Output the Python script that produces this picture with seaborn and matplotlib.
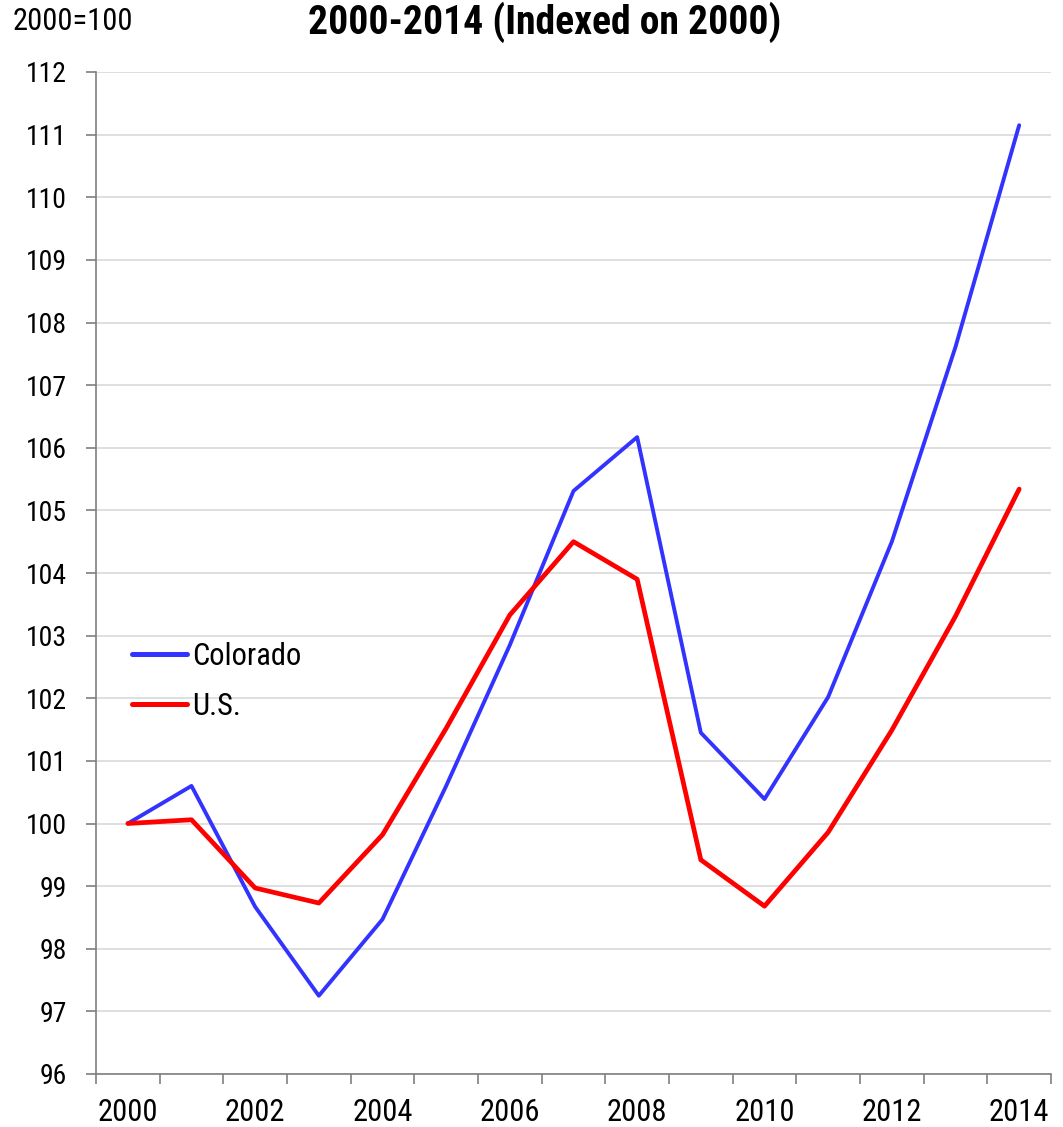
import matplotlib
matplotlib.use("Agg")
import matplotlib.pyplot as plt
from matplotlib import font_manager
from matplotlib.lines import Line2D
import seaborn as sns
import pandas as pd
import numpy as np

years = list(range(2000, 2015))
colorado = [100.0, 100.6, 98.67, 97.25, 98.47, 100.6, 102.85, 105.31, 106.17,
            101.45, 100.39, 102.02, 104.5, 107.61, 111.15]
us = [100.0, 100.06, 98.97, 98.73, 99.82, 101.52, 103.33, 104.5, 103.9,
      99.42, 98.68, 99.86, 101.49, 103.31, 105.34]
series_names = ["Colorado", "U.S."]
series_colors = {"Colorado": "#3333FF", "U.S.": "#FF0000"}
y_ticks = list(range(96, 113))
x_labels = list(range(2000, 2015, 2))


def pick_family(prefs, min_weight=0):
    for name in prefs:
        for f in font_manager.fontManager.ttflist:
            w = f.weight if isinstance(f.weight, int) else 400
            if f.name == name and w >= min_weight:
                return name
    return "DejaVu Sans"


narrow_prefs = ["Liberation Sans Narrow", "Arial Narrow", "Nimbus Sans Narrow",
                "Roboto Condensed", "Archivo Narrow", "PT Sans Narrow",
                "Fira Sans Condensed", "Liberation Sans"]
regular_font = pick_family(narrow_prefs)
bold_font = pick_family(narrow_prefs, min_weight=700)

sns.set_theme(style="white")
plt.rcParams["font.family"] = [regular_font, "DejaVu Sans"]
plt.rcParams["text.color"] = "black"

df = pd.DataFrame({
    "year": years * 2,
    "value": colorado + us,
    "series": ["Colorado"] * len(years) + ["U.S."] * len(years),
})

fig = plt.figure(figsize=(10.63, 11.27), dpi=100)
ax = fig.add_axes([96 / 1063, 53 / 1127, 955 / 1063, 1002 / 1127])

sns.lineplot(data=df, x="year", y="value", hue="series", hue_order=series_names,
             palette=series_colors, ax=ax, linewidth=3, legend=False)
ax.lines[0].set_linewidth(2.8)
ax.lines[1].set_linewidth(3.4)
for ln in ax.lines:
    ln.set_solid_joinstyle("round")
    ln.set_solid_capstyle("round")

ax.set_xlim(1999.5, 2014.5)
ax.set_ylim(96, 112)
ax.set_yticks(y_ticks)
ax.set_yticklabels([str(v) for v in y_ticks])
ax.set_xticks(x_labels)
ax.set_xticklabels([str(v) for v in x_labels])
ax.set_xticks(np.arange(1999.5, 2015, 1.0), minor=True)
ax.tick_params(axis="x", which="major", length=0, pad=17, labelsize=22, colors="black")
ax.tick_params(axis="x", which="minor", length=7.5, width=1.2, color="#7f7f7f",
               direction="out", bottom=True)
ax.tick_params(axis="y", which="major", length=7.5, width=1.2, color="#7f7f7f",
               direction="out", left=True, pad=13.5, labelsize=20, labelcolor="black")
ax.set_xlabel("")
ax.set_ylabel("")

ax.grid(axis="y", color="#d9d9d9", linewidth=1.2)
ax.grid(axis="x", visible=False)
ax.set_axisbelow(True)
for side in ["top", "right"]:
    ax.spines[side].set_visible(False)
for side in ["left", "bottom"]:
    ax.spines[side].set_color("#7f7f7f")
    ax.spines[side].set_linewidth(1.2)

handles = [Line2D([0], [0], color=series_colors[n], lw=3.6, solid_capstyle="round")
           for n in series_names]
ax.legend(handles, series_names, loc="center left", bbox_to_anchor=(0.025, 0.392),
          frameon=False, fontsize=22, handlelength=1.8, handletextpad=0.15,
          labelspacing=0.7, borderaxespad=0, labelcolor="black")

fig.text(13 / 1063, 1 - 30 / 1127, "2000=100", fontsize=22, va="baseline", ha="left",
         color="black")
fig.text(545 / 1063, 1 - 2 / 1127, "2000-2014 (Indexed on 2000)", fontsize=28.5,
         fontweight="bold", family=[bold_font, "DejaVu Sans"],
         va="top", ha="center", color="black")

fig.savefig("out.png", dpi=100, facecolor="white")
